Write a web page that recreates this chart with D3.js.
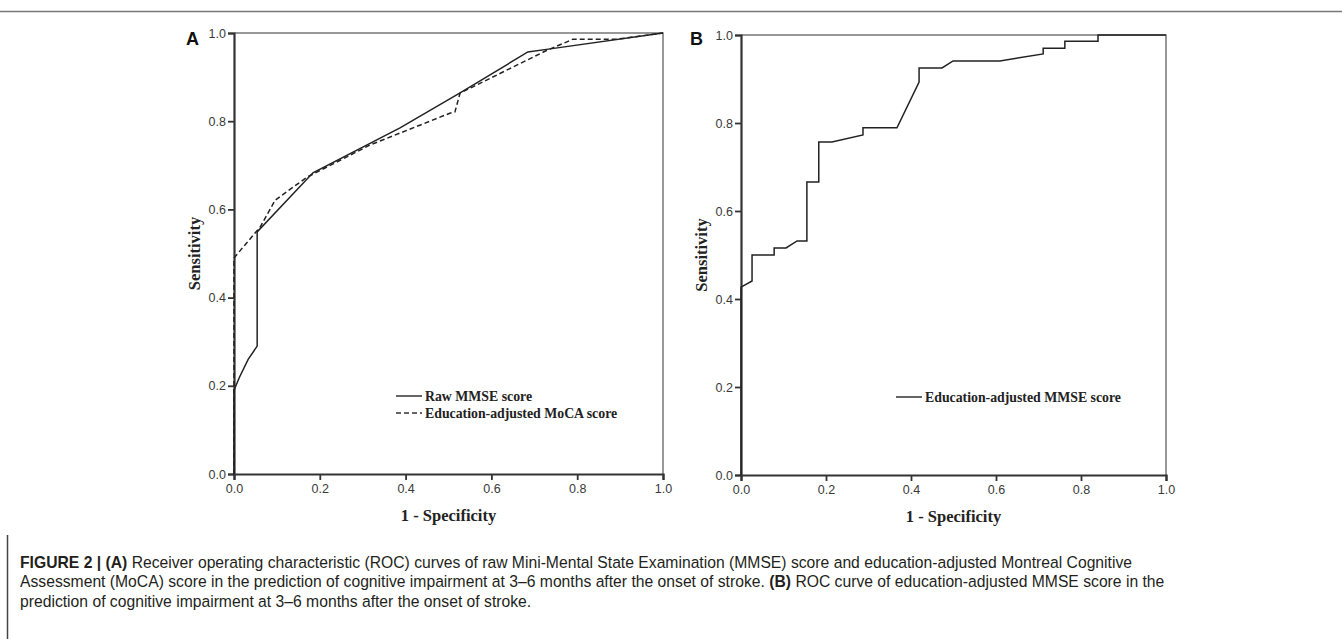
<!DOCTYPE html>
<html>
<head>
<meta charset="utf-8">
<script src="https://cdn.jsdelivr.net/npm/d3@7"></script>
<style>
  body { margin: 0; background: #fff; }
  svg { display: block; }
</style>
</head>
<body>
<svg id="chart" width="1342" height="639"></svg>
<script>
// ROC curves, figure 2 (A and B)

var ticks = [0, 0.2, 0.4, 0.6, 0.8, 1.0];

// panel A, raw MMSE (solid)
var rawMmseFpr = [0, 0, 0.013, 0.033, 0.054, 0.054, 0.184, 0.387, 0.527, 0.685, 0.737, 1];
var rawMmseTpr = [0, 0.19, 0.22, 0.26, 0.29, 0.549, 0.683, 0.785, 0.864, 0.957, 0.964, 1];

// panel A, education-adjusted MoCA (dashed)
var mocaFpr = [0, 0, 0.061, 0.096, 0.17, 0.317, 0.503, 0.515, 0.527, 0.557, 0.73, 0.776, 0.79, 0.893, 1];
var mocaTpr = [0, 0.49, 0.56, 0.621, 0.673, 0.746, 0.818, 0.821, 0.864, 0.878, 0.961, 0.98, 0.986, 0.986, 1];

// panel B, education-adjusted MMSE
var eduMmseFpr = [0, 0, 0.026, 0.026, 0.078, 0.078, 0.106, 0.132, 0.155, 0.155, 0.183, 0.183, 0.214, 0.287, 0.287,
	0.367, 0.419, 0.419, 0.473, 0.499, 0.609, 0.711, 0.711, 0.762, 0.762, 0.84, 0.84, 1];
var eduMmseTpr = [0, 0.427, 0.441, 0.5, 0.5, 0.516, 0.516, 0.532, 0.532, 0.666, 0.666, 0.757, 0.757, 0.773, 0.789,
	0.789, 0.893, 0.925, 0.925, 0.941, 0.941, 0.957, 0.970, 0.970, 0.986, 0.986, 1, 1];

var captionLines = [
	[["FIGURE 2 | ", true], ["(A)", true], [" Receiver operating characteristic (ROC) curves of raw Mini-Mental State Examination (MMSE) score and education-adjusted Montreal Cognitive", false]],
	[["Assessment (MoCA) score in the prediction of cognitive impairment at 3\u20136 months after the onset of stroke. ", false], ["(B)", true], [" ROC curve of education-adjusted MMSE score in the", false]],
	[["prediction of cognitive impairment at 3\u20136 months after the onset of stroke.", false]]
];

var svg = d3.select("#chart");
var serif = "'Liberation Serif', 'DejaVu Serif', serif";
var sans = "'Liberation Sans', Arial, sans-serif";

// frame of the figure
svg.append("line").attr("x1", 0).attr("x2", 1342).attr("y1", 11.5).attr("y2", 11.5)
	.attr("stroke", "#777").attr("stroke-width", 1.5);
svg.append("line").attr("x1", 7.5).attr("x2", 7.5).attr("y1", 535).attr("y2", 639)
	.attr("stroke", "#444").attr("stroke-width", 1.5);

function zip(xs, ys) { return xs.map(function(x, i) { return [x, ys[i]]; }); }

function drawPanel(p) {
	var x = d3.scaleLinear().domain([0, 1]).range([p.left, p.right]);
	var y = d3.scaleLinear().domain([0, 1]).range([p.bottom, p.top]);
	var g = svg.append("g");

	// top / right frame (light)
	g.append("path")
		.attr("d", "M" + x(0) + "," + y(1) + "H" + x(1) + "V" + y(0))
		.attr("fill", "none").attr("stroke", "#777").attr("stroke-width", 1.5);

	var yAxis = g.append("g").attr("transform", "translate(" + x(0) + ",0)")
		.call(d3.axisLeft(y).tickValues(ticks).tickFormat(d3.format(".1f")).tickSize(6).tickPadding(2));
	var xAxis = g.append("g").attr("transform", "translate(0," + y(0) + ")")
		.call(d3.axisBottom(x).tickValues(ticks).tickFormat(d3.format(".1f")).tickSize(6).tickPadding(4));
	[yAxis, xAxis].forEach(function(a) {
		a.select(".domain").attr("stroke", "#333").attr("stroke-width", 2.2);
		a.selectAll(".tick line").attr("stroke", "#333").attr("stroke-width", 1.8);
		a.selectAll(".tick text").attr("fill", "#3a3a3a").style("font-family", sans).style("font-size", "12.5px");
	});

	var line = d3.line().x(function(d) { return x(d[0]); }).y(function(d) { return y(d[1]); });
	p.series.forEach(function(s) {
		g.append("path").datum(zip(s.fpr, s.tpr))
			.attr("d", line).attr("fill", "none")
			.attr("stroke", "#222").attr("stroke-width", 1.5)
			.attr("stroke-dasharray", s.dash || null);
	});

	// axis titles
	g.append("text")
		.attr("transform", "translate(" + (x(0) - 40) + "," + ((y(0) + y(1)) / 2) + ") rotate(-90)")
		.attr("text-anchor", "middle").attr("dy", "0.35em")
		.style("font-family", serif).style("font-weight", "bold").style("font-size", "16.5px").attr("fill", "#222")
		.text("Sensitivity");
	g.append("text")
		.attr("x", (x(0) + x(1)) / 2).attr("y", y(0) + 47)
		.attr("text-anchor", "middle")
		.style("font-family", serif).style("font-weight", "bold").style("font-size", "16.5px").attr("fill", "#222")
		.text("1 - Specificity");

	// panel letter
	g.append("text").attr("x", p.letterX).attr("y", 45)
		.style("font-family", sans).style("font-weight", "bold").style("font-size", "18px").attr("fill", "#111")
		.text(p.letter);

	// legend
	p.series.forEach(function(s, i) {
		var ly = p.legendY + i * 17;
		g.append("line").attr("x1", p.legendX).attr("x2", p.legendX + 26).attr("y1", ly).attr("y2", ly)
			.attr("stroke", "#333").attr("stroke-width", 1.5).attr("stroke-dasharray", s.dash ? "5,3" : null);
		g.append("text").attr("x", p.legendX + 29).attr("y", ly).attr("dy", "0.35em")
			.style("font-family", serif).style("font-weight", "bold").style("font-size", "13.8px").attr("fill", "#222")
			.text(s.name);
	});
}

drawPanel({
	left: 234, right: 663, top: 33, bottom: 474, letter: "A", letterX: 186,
	legendX: 396, legendY: 396,
	series: [
		{ name: "Raw MMSE score", fpr: rawMmseFpr, tpr: rawMmseTpr },
		{ name: "Education-adjusted MoCA score", fpr: mocaFpr, tpr: mocaTpr, dash: "5,3" }
	]
});

drawPanel({
	left: 741, right: 1166, top: 35, bottom: 475, letter: "B", letterX: 690,
	legendX: 896, legendY: 397,
	series: [
		{ name: "Education-adjusted MMSE score", fpr: eduMmseFpr, tpr: eduMmseTpr }
	]
});

// caption: a slightly larger font squeezed horizontally, for the condensed look
var capLine1Width = 1113;
var cap = svg.append("g");
var capTexts = captionLines.map(function(parts, i) {
	var t = cap.append("text").attr("x", 0).attr("y", 568 + i * 19.5)
		.style("font-family", sans).style("font-size", "16.5px").attr("fill", "#231f20");
	parts.forEach(function(pt) {
		t.append("tspan").style("font-weight", pt[1] ? "bold" : "normal").text(pt[0]);
	});
	return t;
});
var squeeze = capLine1Width / capTexts[0].node().getComputedTextLength();
cap.attr("transform", "translate(20,0) scale(" + squeeze + ",1)");
</script>
</body>
</html>
